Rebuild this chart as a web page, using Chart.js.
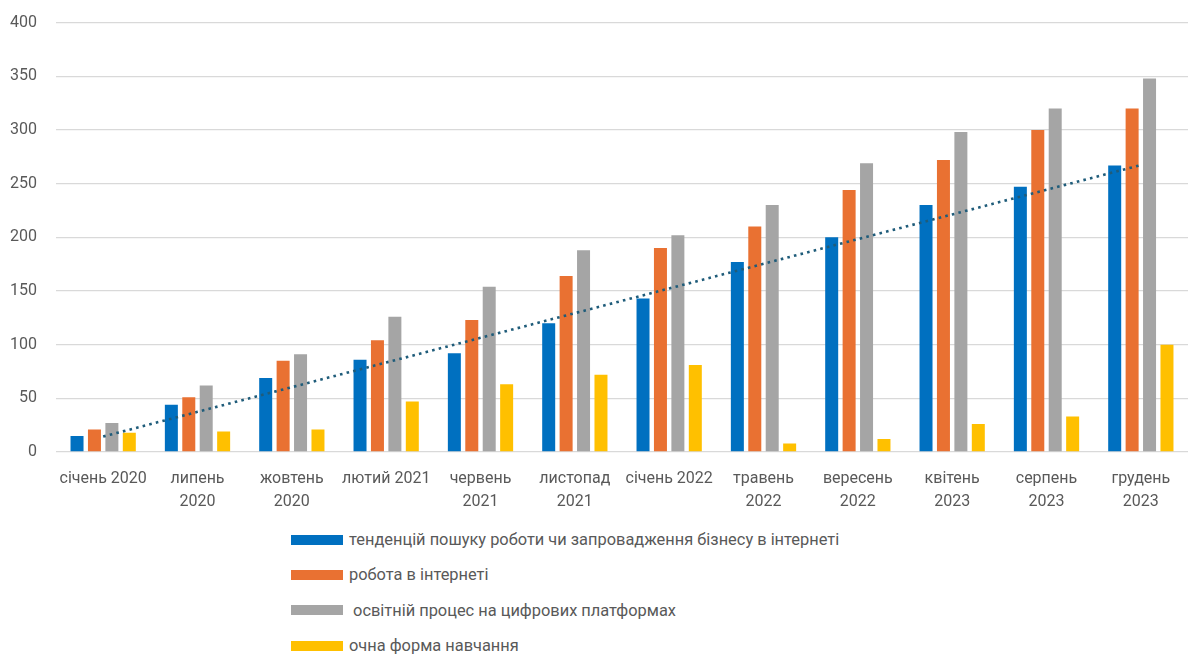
<!DOCTYPE html>
<html lang="uk">
<head>
<meta charset="utf-8">
<title>Динаміка</title>
<script src="https://cdn.jsdelivr.net/npm/chart.js@4/dist/chart.umd.min.js"></script>
<style>
  body { margin: 0; background: #fff; font-family: Roboto, "Liberation Sans", sans-serif; }
  #wrap { position: relative; width: 1188px; height: 655px; overflow: hidden; }
  #chartBox { position: absolute; left: 0; top: -6px; width: 1188px; height: 528px; }
  #legend { position: absolute; left: 291px; top: 522px; list-style: none; margin: 0; padding: 0; }
  #legend li { display: flex; align-items: center; height: 35.3px; color: #595959; font-size: 16.4px; white-space: pre; }
  #legend .box { width: 52px; height: 10px; margin-right: 6px; }
</style>
</head>
<body>
<div id="wrap">
  <div id="chartBox"><canvas id="trendChart"></canvas></div>
  <ul id="legend"></ul>
</div>
<script>
// Periods (multi-line where the label wraps under the group)
const periods = [
    ["січень 2020"], ["липень", "2020"], ["жовтень", "2020"], ["лютий 2021"],
    ["червень", "2021"], ["листопад", "2021"], ["січень 2022"], ["травень", "2022"],
    ["вересень", "2022"], ["квітень", "2023"], ["серпень", "2023"], ["грудень", "2023"]
];

const seriesNames = [
    "тенденцій пошуку роботи чи запровадження бізнесу в інтернеті",
    "робота в інтернеті",
    " освітній процес на цифрових платформах",
    "очна форма навчання"
];

const jobSearch = [15, 44, 69, 86, 92, 120, 143, 177, 200, 230, 247, 267];
const onlineWork = [21, 51, 85, 104, 123, 164, 190, 210, 244, 272, 300, 320];
const eduPlatforms = [27, 62, 91, 126, 154, 188, 202, 230, 269, 298, 320, 348];
const fullTime = [18, 19, 21, 47, 63, 72, 81, 8, 12, 26, 33, 100];

const yTicks = [0, 50, 100, 150, 200, 250, 300, 350, 400];

const colors = ["#0070C0", "#E97132", "#A5A5A5", "#FFC000"];

// linear trend line fitted to the first series
function linearTrend(values) {
    const n = values.length;
    let sx = 0, sy = 0, sxy = 0, sxx = 0;
    values.forEach((v, i) => { sx += i; sy += v; sxy += i * v; sxx += i * i; });
    const slope = (n * sxy - sx * sy) / (n * sxx - sx * sx);
    const icpt = (sy - slope * sx) / n;
    return values.map((v, i) => icpt + slope * i);
}

const barSets = [jobSearch, onlineWork, eduPlatforms, fullTime].map((data, i) => ({
    type: "bar",
    label: seriesNames[i],
    data: data,
    backgroundColor: colors[i],
    borderWidth: 0,
    barPercentage: 0.746,
    categoryPercentage: 0.739,
    order: 2
}));

const ctx = document.getElementById("trendChart").getContext("2d");
new Chart(ctx, {
    type: "bar",
    data: {
        labels: periods,
        datasets: [
            ...barSets,
            {
                type: "line",
                label: "Лінійна (тенденцій пошуку роботи)",
                data: linearTrend(jobSearch),
                borderColor: "#1F5C7A",
                borderWidth: 2.6,
                borderDash: [2.6, 4.2],
                pointRadius: 0,
                fill: false,
                order: 1
            }
        ]
    },
    options: {
        responsive: true,
        maintainAspectRatio: false,
        animation: false,
        layout: { padding: { top: 0, right: 0, left: 0, bottom: 0 } },
        plugins: {
            legend: { display: false },
            tooltip: { enabled: false }
        },
        scales: {
            x: {
                grid: { display: false },
                border: { display: false },
                ticks: {
                    color: "#595959",
                    font: { family: "Roboto", size: 16, lineHeight: 1.45 },
                    padding: 7,
                    maxRotation: 0,
                    autoSkip: false
                },
                afterFit(scale) { scale.height = 70; }
            },
            y: {
                min: 0,
                max: 400,
                afterBuildTicks(scale) { scale.ticks = yTicks.map(v => ({ value: v })); },
                grid: { color: "#D9D9D9", lineWidth: 1.3, drawTicks: false },
                border: { display: false },
                ticks: {
                    color: "#595959",
                    font: { family: "Roboto", size: 16 },
                    padding: 19
                },
                afterFit(scale) { scale.width = 56; }
            }
        }
    }
});

// Legend list below the chart, one series per row
const legend = document.getElementById("legend");
seriesNames.forEach((name, i) => {
    const li = document.createElement("li");
    const box = document.createElement("span");
    box.className = "box";
    box.style.background = colors[i];
    li.appendChild(box);
    li.appendChild(document.createTextNode(name));
    legend.appendChild(li);
});
</script>
</body>
</html>
